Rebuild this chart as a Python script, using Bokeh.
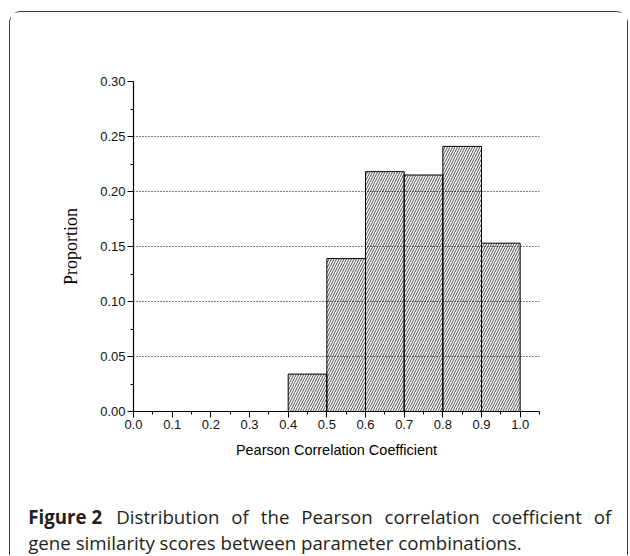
from bokeh.plotting import figure
from bokeh.layouts import column
from bokeh.models import Range1d, FixedTicker, NumeralTickFormatter
from bokeh.core.properties import value
from bokeh.embed import file_html
from bokeh.resources import INLINE

# ---- data ----
bin_left = [0.4, 0.5, 0.6, 0.7, 0.8, 0.9]
bin_right = [0.5, 0.6, 0.7, 0.8, 0.9, 1.0]
proportion = [0.034, 0.139, 0.218, 0.215, 0.241, 0.153]

x_ticks = [0.0, 0.1, 0.2, 0.3, 0.4, 0.5, 0.6, 0.7, 0.8, 0.9, 1.0]
x_minor = [0.05, 0.15, 0.25, 0.35, 0.45, 0.55, 0.65, 0.75, 0.85, 0.95, 1.05]
y_ticks = [0.0, 0.05, 0.10, 0.15, 0.20, 0.25, 0.30]
y_minor = [0.025, 0.075, 0.125, 0.175, 0.225, 0.275]
grid_ticks = [0.05, 0.10, 0.15, 0.20, 0.25]

x_title = "Pearson Correlation Coefficient"
y_title = "Proportion"
caption_bold = "Figure 2"
caption_line1 = "Distribution of the Pearson correlation coefficient of"
caption_line2 = "gene similarity scores between parameter combinations."

X_END, Y_END = 1.05, 0.30
W = 617
H_PLOT, H_CAP = 464, 79
CAP_SIZE = 18.7

p = figure(width=W, height=H_PLOT, output_backend="svg", toolbar_location=None,
           x_range=Range1d(0, X_END), y_range=Range1d(0, Y_END),
           min_border_left=123, min_border_right=88,
           min_border_top=69, min_border_bottom=65)
p.frame_align = False
p.outline_line_color = None
p.background_fill_color = "white"
p.border_fill_color = "white"

p.quad(left=bin_left, right=bin_right, bottom=0, top=proportion,
       fill_alpha=0, line_color="black", line_width=1,
       hatch_pattern="/", hatch_color="black", hatch_scale=5,
       hatch_weight=0.7)

# axes
p.xaxis.ticker = FixedTicker(ticks=x_ticks, minor_ticks=x_minor)
p.yaxis.ticker = FixedTicker(ticks=y_ticks, minor_ticks=y_minor)
p.xaxis.formatter = NumeralTickFormatter(format="0.0")
p.yaxis.formatter = NumeralTickFormatter(format="0.00")
for ax in (p.xaxis, p.yaxis):
    ax.axis_line_color = "black"
    ax.axis_line_width = 1.2
    ax.major_tick_line_color = "black"
    ax.minor_tick_line_color = "black"
    ax.major_tick_in = 0
    ax.minor_tick_in = 0
    ax.major_tick_out = 6
    ax.minor_tick_out = 3
    ax.major_label_text_font = "Liberation Sans"
    ax.major_label_text_font_size = "13px"
    ax.major_label_text_color = "#111111"
    ax.major_label_standoff = 2
    ax.axis_label_text_font_style = "normal"
    ax.axis_label_text_color = "black"

p.xaxis.axis_label = x_title
p.xaxis.axis_label_text_font = "Liberation Sans"
p.xaxis.axis_label_text_font_size = "14.5px"
p.xaxis.axis_label_standoff = 10

p.yaxis.axis_label = y_title
p.yaxis.axis_label_text_font = "Liberation Serif"
p.yaxis.axis_label_text_font_size = "18px"
p.yaxis.axis_label_standoff = 16

# grid
p.xgrid.visible = False
p.ygrid.ticker = FixedTicker(ticks=grid_ticks)
p.ygrid.grid_line_color = "black"
p.ygrid.grid_line_dash = "1 2"
p.ygrid.grid_line_width = 1

# caption panel (pixel coordinates, y downwards)
cap = figure(width=W, height=H_CAP, output_backend="svg", toolbar_location=None,
             x_range=Range1d(0, W), y_range=Range1d(H_CAP, 0),
             x_axis_type=None, y_axis_type=None,
             min_border_left=0, min_border_right=0,
             min_border_top=0, min_border_bottom=0)
cap.frame_align = False
cap.outline_line_color = None
cap.grid.visible = False
cap.background_fill_color = "white"
cap.border_fill_color = "white"

# approximate Open Sans advance widths (units of 1/2048 em), used to justify line 1
ADV = {"a": 1139, "b": 1255, "c": 975, "d": 1255, "e": 1149, "f": 694, "g": 1122,
       "h": 1257, "i": 518, "l": 518, "m": 1905, "n": 1257, "o": 1237, "p": 1255,
       "r": 836, "s": 977, "t": 723, "u": 1257, "D": 1479, "P": 1204}


def word_width(word):
    return sum(ADV.get(ch, 1100) for ch in word) / 2048 * CAP_SIZE


cap_kw = dict(text_font=value("Open Sans"), text_font_size=f"{CAP_SIZE}px",
              text_color="#231f20", text_baseline="alphabetic")
LEFT, LINE1_START, LINE1_END = 17.7, 105.7, 601.0
BASE1, BASE2 = 40.0, 65.5

cap.text(x=[LEFT], y=[BASE1], text=[caption_bold], text_font_style="bold", **cap_kw)

words = caption_line1.split(" ")
widths = [word_width(w) for w in words]
gap = (LINE1_END - LINE1_START - sum(widths)) / (len(words) - 1)
xs, cur = [], LINE1_START
for wd in widths:
    xs.append(cur)
    cur += wd + gap
cap.text(x=xs, y=[BASE1] * len(words), text=words, **cap_kw)

cap.text(x=[LEFT], y=[BASE2], text=[caption_line2], **cap_kw)

layout = column(p, cap, spacing=0,
                styles={"border": "1.5px solid #3c3c3c", "border-bottom": "none",
                        "border-radius": "12px 12px 0 0",
                        "margin-top": "11px", "margin-left": "8.5px"})

open("out.html", "w").write(file_html(layout, INLINE))
